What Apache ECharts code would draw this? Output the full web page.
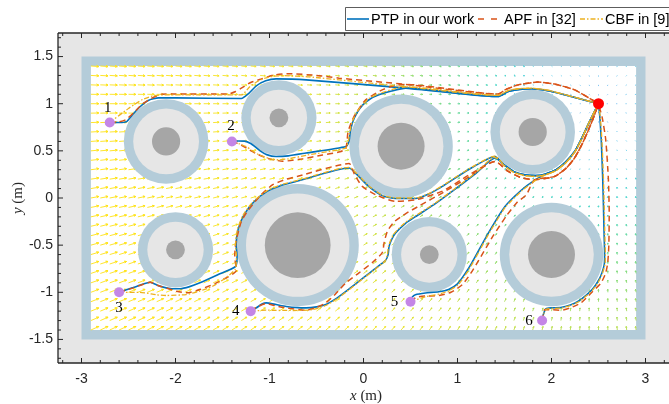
<!DOCTYPE html>
<html><head><meta charset="utf-8">
<script src="https://cdn.jsdelivr.net/npm/echarts@6/dist/echarts.min.js"></script>
<style>html,body{margin:0;padding:0;background:#fff}#c{width:669px;height:404px}</style>
</head><body><div id="c"></div>
<script>
// ---------------- data ----------------
const goal = [2.5, 1.0];
const starts = [[-2.7,0.8],[-1.4,0.6],[-2.6,-1.0],[-1.2,-1.2],[0.5,-1.1],[1.9,-1.3]];
const startNames = ['1','2','3','4','5','6'];
// obstacles: [cx, cy, core radius]
const obstacles = [[-2.1,0.6,0.15],[-0.9,0.85,0.1],[0.4,0.55,0.25],[1.8,0.7,0.15],[-2.0,-0.55,0.1],[-0.7,-0.5,0.35],[0.7,-0.6,0.1],[2.0,-0.6,0.25]];
const obstacleMargin = 0.2, obstacleBand = 0.1;
const arena = [-3, 3, -1.5, 1.5];
const arenaWall = 0.1;

const xTicks = [-3,-2,-1,0,1,2,3];
const xTickLabels = ['-3','-2','-1','0','1','2','3'];
const yTicks = [-1.5,-1,-0.5,0,0.5,1,1.5];
const yTickLabels = ['-1.5','-1','-0.5','0','0.5','1','1.5'];

// PTP (our work)
const ptpTopTail = [[0.45,1.165],[1.43,1.076],[1.54,1.13],[1.66,1.152],[1.79,1.158],[1.96,1.137],[2.1,1.105],[2.21,1.076],[2.5,1.0]];
const ptpBottomTail = [[1.505,0.345],[1.6,0.28],[1.716,0.245],[1.83,0.237],[1.94,0.255],[2.05,0.3],[2.15,0.38],[2.245,0.49],[2.315,0.62],[2.4,0.8],[2.5,1.0]];
const ptp1 = [[-2.7,0.8],[-2.6,0.8],[-2.52,0.81],[-2.46,0.88],[-2.38,0.965],[-2.29,1.035],[-2.18,1.062],[-2.0,1.062],[-1.3,1.055],[-1.22,1.11],[-1.14,1.19],[-1.04,1.243],[-0.93,1.263],[-0.61,1.253]];
const ptp2 = [[-1.4,0.6],[-1.33,0.605],[-1.265,0.603],[-1.2,0.578],[-1.155,0.545],[-1.1,0.5],[-1.03,0.46],[-0.93,0.44],[-0.8,0.447],[-0.612,0.477],[-0.188,0.547],[-0.155,0.6],[-0.14,0.7],[-0.115,0.805],[-0.065,0.91],[-0.01,0.985],[0.07,1.05],[0.164,1.094],[0.3,1.135]];
const ptp3 = [[-2.6,-1.0],[-2.45,-0.95],[-2.35,-0.915],[-2.27,-0.894],[-2.2,-0.922],[-2.13,-0.945],[-2.04,-0.962],[-1.95,-0.962],[-1.85,-0.94],[-1.74,-0.9],[-1.55,-0.815],[-1.36,-0.725],[-1.345,-0.614],[-1.355,-0.5],[-1.333,-0.33],[-1.267,-0.172],[-1.163,-0.037],[-1.028,0.067],[-0.87,0.135],[-0.7,0.18],[-0.153,0.318],[-0.083,0.262],[0.058,0.12],[0.2,0.025],[0.341,-0.005],[0.552,-0.005],[0.7,0.045],[0.834,0.12],[1.116,0.3],[1.399,0.44]];
const ptp4 = [[-1.2,-1.2],[-1.14,-1.165],[-1.08,-1.125],[-1.035,-1.112],[-0.93,-1.13],[-0.823,-1.15],[-0.7,-1.163],[-0.612,-1.165],[-0.5,-1.155],[-0.4,-1.13],[-0.28,-1.06],[-0.153,-0.965],[0.0,-0.845],[0.12,-0.752],[0.235,-0.66],[0.262,-0.6],[0.272,-0.513],[0.3,-0.44],[0.341,-0.372],[0.447,-0.268],[0.552,-0.198],[0.75,-0.07],[0.95,0.075],[1.2,0.265],[1.399,0.425]];
const ptp5 = [[0.5,-1.1],[0.52,-1.05],[0.552,-1.026],[0.658,-1.008],[0.8,-0.995],[0.905,-0.97],[1.0,-0.91],[1.075,-0.81],[1.151,-0.69],[1.328,-0.372],[1.505,-0.09],[1.681,0.085],[1.822,0.19],[1.94,0.255],[2.05,0.3],[2.15,0.38],[2.245,0.49],[2.315,0.62],[2.4,0.8],[2.5,1.0]];
const ptp6 = [[1.9,-1.3],[1.915,-1.23],[1.94,-1.175],[2.0,-1.165],[2.099,-1.162],[2.2,-1.135],[2.285,-1.095],[2.37,-1.03],[2.437,-0.966],[2.5,-0.875],[2.536,-0.795],[2.562,-0.7],[2.565,-0.6],[2.56,-0.4],[2.553,-0.1],[2.545,0.2],[2.53,0.6],[2.515,0.85],[2.5,1.0]];

// APF in [32]
const apfTopTail = [[0.45,1.205],[1.434,1.102],[1.505,1.147],[1.646,1.2],[1.857,1.229],[2.034,1.208],[2.246,1.147],[2.4,1.06],[2.5,1.0]];
const apfBottomTail = [[1.399,0.388],[1.54,0.282],[1.68,0.215],[1.822,0.194],[2.034,0.229],[2.16,0.32],[2.245,0.424],[2.32,0.56],[2.386,0.705],[2.45,0.86],[2.5,1.0]];
const apf1 = [[-2.7,0.8],[-2.6,0.808],[-2.53,0.83],[-2.45,0.9],[-2.36,0.99],[-2.27,1.05],[-2.15,1.1],[-2.0,1.103],[-1.444,1.102],[-1.36,1.13],[-1.3,1.165],[-1.2,1.225],[-1.088,1.262],[-0.95,1.305],[-0.788,1.318],[-0.5,1.3],[-0.259,1.271]];
const apf2 = [[-1.4,0.6],[-1.317,0.57],[-1.23,0.52],[-1.141,0.47],[-1.0,0.415],[-0.859,0.39],[-0.65,0.415],[-0.436,0.455],[-0.25,0.49],[-0.19,0.52],[-0.175,0.6],[-0.165,0.7],[-0.13,0.8],[-0.09,0.883],[0.023,1.041],[0.199,1.147],[0.341,1.195]];
const apf3 = [[-2.6,-1.0],[-2.446,-0.953],[-2.27,-0.894],[-2.18,-0.93],[-2.093,-0.955],[-1.987,-0.99],[-1.881,-1.006],[-1.741,-0.971],[-1.565,-0.9],[-1.352,-0.765],[-1.37,-0.619],[-1.36,-0.48],[-1.335,-0.371],[-1.3,-0.25],[-1.247,-0.159],[-1.106,0.017],[-0.965,0.141],[-0.82,0.2],[-0.7,0.23],[-0.153,0.365],[-0.095,0.25],[-0.013,0.123],[0.129,0.035],[0.341,-0.036],[0.552,-0.02],[0.834,0.07],[1.116,0.24]];
const apf4 = [[-1.2,-1.2],[-1.14,-1.16],[-1.035,-1.12],[-0.93,-1.145],[-0.823,-1.165],[-0.612,-1.19],[-0.5,-1.16],[-0.4,-1.112],[-0.3,-1.02],[-0.188,-0.9],[-0.048,-0.794],[0.1,-0.68],[0.2,-0.58],[0.22,-0.47],[0.255,-0.35],[0.33,-0.25],[0.45,-0.165],[0.6,-0.08],[0.85,0.06],[1.1,0.21]];
const apf5 = [[0.5,-1.1],[0.56,-1.055],[0.658,-1.04],[0.8,-1.035],[0.93,-1.0],[1.05,-0.92],[1.14,-0.8],[1.22,-0.67],[1.38,-0.4],[1.52,-0.19],[1.63,-0.05],[1.733,0.035],[1.78,0.13],[1.822,0.194],[2.034,0.229],[2.16,0.32],[2.245,0.424],[2.32,0.56],[2.386,0.705],[2.45,0.86],[2.5,1.0]];
const apf6 = [[1.9,-1.3],[1.915,-1.23],[1.927,-1.183],[2.0,-1.185],[2.104,-1.19],[2.2,-1.165],[2.315,-1.112],[2.43,-1.0],[2.527,-0.9],[2.575,-0.8],[2.598,-0.689],[2.61,-0.5],[2.614,-0.159],[2.605,0.2],[2.577,0.618],[2.54,0.85],[2.5,1.0]];

// CBF in [9]
const cbfTopTail = [[0.45,1.18],[1.43,1.088],[1.54,1.14],[1.66,1.16],[1.79,1.165],[1.96,1.143],[2.1,1.108],[2.21,1.078],[2.5,1.0]];
const cbfBottomTail = [[1.505,0.338],[1.6,0.272],[1.716,0.237],[1.83,0.229],[1.94,0.247],[2.05,0.292],[2.15,0.372],[2.245,0.483],[2.315,0.615],[2.4,0.8],[2.5,1.0]];
const cbf1 = [[-2.7,0.8],[-2.5,0.95],[-2.35,1.045],[-2.25,1.08],[-2.15,1.093],[-2.0,1.093],[-1.3,1.093],[-1.21,1.18],[-1.124,1.238],[-1.053,1.27],[-0.965,1.292],[-0.85,1.297],[-0.58,1.285]];
const cbf2 = [[-1.4,0.6],[-1.32,0.573],[-1.247,0.545],[-1.18,0.5],[-1.106,0.455],[-1.0,0.418],[-0.93,0.405],[-0.8,0.415],[-0.6,0.455],[-0.19,0.53],[-0.162,0.6],[-0.145,0.7],[-0.12,0.81],[-0.068,0.915],[-0.015,0.985],[0.065,1.06],[0.164,1.105],[0.3,1.15]];
const cbf3 = [[-2.6,-1.0],[-2.381,-1.0],[-2.2,-1.027],[-2.099,-1.034],[-1.887,-1.024],[-1.75,-0.99],[-1.605,-0.936],[-1.47,-0.85],[-1.365,-0.755],[-1.352,-0.614],[-1.362,-0.5],[-1.34,-0.328],[-1.273,-0.168],[-1.168,-0.032],[-1.032,0.073],[-0.873,0.142],[-0.7,0.187],[-0.153,0.325],[-0.08,0.268],[0.06,0.125],[0.2,0.03],[0.341,0.0],[0.552,0.0],[0.7,0.05],[0.834,0.127],[1.116,0.305],[1.399,0.445]];
const cbf4 = [[-1.2,-1.2],[-1.035,-1.19],[-0.753,-1.193],[-0.55,-1.185],[-0.4,-1.14],[-0.28,-1.068],[-0.153,-0.972],[0.0,-0.852],[0.12,-0.76],[0.228,-0.668],[0.255,-0.6],[0.265,-0.513],[0.293,-0.44],[0.336,-0.365],[0.443,-0.26],[0.55,-0.19],[0.75,-0.062],[0.95,0.083],[1.2,0.272],[1.395,0.432]];
const cbf5 = [[0.5,-1.1],[0.658,-1.048],[0.8,-1.02],[0.905,-0.985],[1.008,-0.92],[1.085,-0.815],[1.16,-0.693],[1.336,-0.375],[1.512,-0.094],[1.688,0.08],[1.825,0.184],[1.94,0.247],[2.05,0.292],[2.15,0.372],[2.245,0.483],[2.315,0.615],[2.4,0.8],[2.5,1.0]];
const cbf6 = [[1.9,-1.3],[1.918,-1.225],[1.945,-1.18],[2.0,-1.172],[2.099,-1.168],[2.2,-1.14],[2.29,-1.1],[2.375,-1.035],[2.443,-0.97],[2.506,-0.878],[2.543,-0.797],[2.57,-0.7],[2.573,-0.6],[2.568,-0.4],[2.561,-0.1],[2.553,0.2],[2.537,0.6],[2.52,0.85],[2.5,1.0]];

// ---------------- build ----------------
const ptpPaths = [ptp1.concat(ptpTopTail), ptp2.concat(ptpTopTail), ptp3.concat(ptpBottomTail), ptp4.concat(ptpBottomTail), ptp5, ptp6];
const apfPaths = [apf1.concat(apfTopTail), apf2.concat(apfTopTail), apf3.concat(apfBottomTail), apf4.concat(apfBottomTail), apf5, apf6];
const cbfPaths = [cbf1.concat(cbfTopTail), cbf2.concat(cbfTopTail), cbf3.concat(cbfBottomTail), cbf4.concat(cbfBottomTail), cbf5, cbf6];

// attractive field toward goal (quiver background)
const fieldStep = 0.1;
const fieldData = [];
for (let i = -29; i <= 29; i++) for (let j = -14; j <= 14; j++) {
  const x = i * fieldStep, y = j * fieldStep;
  fieldData.push([x, y, goal[0] - x, goal[1] - y]);
}
const fieldScale = 0.0155, fieldMax = 5.4;
const fieldStops = [[0,[135,185,245]],[0.1,[95,205,235]],[0.2,[80,215,205]],[0.33,[125,218,125]],[0.47,[192,223,70]],[0.62,[240,228,45]],[1,[255,226,20]]];
function fieldColor(t) {
  t = Math.max(0, Math.min(1, t));
  for (let k = 1; k < fieldStops.length; k++) {
    if (t <= fieldStops[k][0]) {
      const a = fieldStops[k-1], b = fieldStops[k];
      const f = (t - a[0]) / (b[0] - a[0]);
      const c = a[1].map((v, n) => Math.round(v + (b[1][n] - v) * f));
      return 'rgb(' + c.join(',') + ')';
    }
  }
  return 'rgb(255,226,20)';
}

const ink = '#262626';
const xMinor = [], yMinor = [];
for (let k = -16; k <= 16; k++) if (k % 5 !== 0) xMinor.push(k * 0.2);
for (let k = -17; k <= 17; k++) if (k % 5 !== 0) yMinor.push(k * 0.1);

const startLabelOffsets = [[-2,-15],[-1,-15],[0,16],[-15,0],[-16,0],[-13,0]];

const series = [];
// arena
series.push({
  type: 'custom', coordinateSystem: 'cartesian2d', data: [[0,0]], z: 1, silent: true, clip: false,
  renderItem: function (params, api) {
    const p0 = api.coord([arena[0], arena[3]]), p1 = api.coord([arena[1], arena[2]]);
    const q0 = api.coord([arena[0] + arenaWall, arena[3] - arenaWall]), q1 = api.coord([arena[1] - arenaWall, arena[2] + arenaWall]);
    return { type: 'group', children: [
      { type: 'rect', shape: { x: p0[0], y: p0[1], width: p1[0] - p0[0], height: p1[1] - p0[1] }, style: { fill: '#b4ccd9' } },
      { type: 'rect', shape: { x: q0[0], y: q0[1], width: q1[0] - q0[0], height: q1[1] - q0[1] }, style: { fill: '#ffffff' } }
    ]};
  }
});
// field
series.push({
  type: 'custom', coordinateSystem: 'cartesian2d', data: fieldData, z: 2, silent: true,
  renderItem: function (params, api) {
    const x = api.value(0), y = api.value(1), u = api.value(2), v = api.value(3);
    const d = Math.hypot(u, v);
    const p = api.coord([x, y]);
    const q = api.coord([x + u * fieldScale, y + v * fieldScale]);
    let dx = q[0] - p[0], dy = q[1] - p[1];
    let len = Math.hypot(dx, dy);
    const col = fieldColor(d / fieldMax);
    if (len < 1.2) {
      const ux = len > 0 ? dx / len : 1, uy = len > 0 ? dy / len : 0;
      return { type: 'line', shape: { x1: p[0], y1: p[1], x2: p[0] + ux * 1.2, y2: p[1] + uy * 1.2 }, style: { stroke: col, lineWidth: 0.9 } };
    }
    const ux = dx / len, uy = dy / len;
    const h = Math.max(1.2, len * 0.3), a = 0.45;
    const bx = -ux, by = -uy;
    const c = Math.cos(a), s = Math.sin(a);
    const h1 = [q[0] + h * (bx * c - by * s), q[1] + h * (bx * s + by * c)];
    const h2 = [q[0] + h * (bx * c + by * s), q[1] + h * (-bx * s + by * c)];
    return { type: 'polyline', shape: { points: [p, q, h1, q, h2] }, style: { stroke: col, lineWidth: 0.9, fill: null } };
  }
});
// obstacles
series.push({
  type: 'custom', coordinateSystem: 'cartesian2d', data: obstacles, z: 3, silent: true, clip: false,
  renderItem: function (params, api) {
    const c = api.coord([api.value(0), api.value(1)]);
    const sc = api.size([1, 1])[0];
    const r = api.value(2);
    return { type: 'group', children: [
      { type: 'circle', shape: { cx: c[0], cy: c[1], r: (r + obstacleMargin + obstacleBand) * sc }, style: { fill: '#b4ccd9' } },
      { type: 'circle', shape: { cx: c[0], cy: c[1], r: (r + obstacleMargin) * sc }, style: { fill: '#e6e6e6' } },
      { type: 'circle', shape: { cx: c[0], cy: c[1], r: r * sc }, style: { fill: '#a6a6a6' } }
    ]};
  }
});
// paths
ptpPaths.forEach(function (d) {
  series.push({ type: 'line', data: d, z: 4, showSymbol: false, symbol: 'none', smooth: 0.2, silent: true,
    lineStyle: { color: '#0072bd', width: 1.6 } });
});
apfPaths.forEach(function (d) {
  series.push({ type: 'line', data: d, z: 4, showSymbol: false, symbol: 'none', smooth: 0.2, silent: true,
    lineStyle: { color: '#d95319', width: 1.5, type: [6, 4] } });
});
cbfPaths.forEach(function (d) {
  series.push({ type: 'line', data: d, z: 4, showSymbol: false, symbol: 'none', smooth: 0.2, silent: true,
    lineStyle: { color: '#edb120', width: 1.3, type: [5, 2, 1.5, 2] } });
});
// starts and goal
series.push({
  type: 'custom', coordinateSystem: 'cartesian2d', data: starts, z: 6, silent: true, clip: false,
  renderItem: function (params, api) {
    const p = api.coord([api.value(0), api.value(1)]);
    const off = startLabelOffsets[params.dataIndex];
    return { type: 'group', children: [
      { type: 'circle', shape: { cx: p[0], cy: p[1], r: 5 }, style: { fill: '#c486e6' } },
      { type: 'text', style: { text: startNames[params.dataIndex], x: p[0] + off[0], y: p[1] + off[1], align: 'center', verticalAlign: 'middle', font: '15px "Liberation Serif"', fill: '#000' } }
    ]};
  }
});
series.push({
  type: 'custom', coordinateSystem: 'cartesian2d', data: [goal], z: 6, silent: true, clip: false,
  renderItem: function (params, api) {
    const p = api.coord([api.value(0), api.value(1)]);
    return { type: 'circle', shape: { cx: p[0], cy: p[1], r: 5.5 }, style: { fill: '#ff0000' } };
  }
});
// axes frame, ticks, labels
series.push({
  type: 'custom', coordinateSystem: 'cartesian2d', data: [[0,0]], z: 10, silent: true, clip: false,
  renderItem: function (params, api) {
    const cs = params.coordSys;
    const L = cs.x, T = cs.y, B = cs.y + cs.height, R = cs.x + cs.width;
    const ch = [];
    const seg = (x1, y1, x2, y2, w) => ({ type: 'line', shape: { x1, y1, x2, y2 }, style: { stroke: ink, lineWidth: w || 1 } });
    ch.push(seg(L, T, L, B, 1.3)); ch.push(seg(L, B, R, B, 1.3)); ch.push(seg(L, T, R, T, 1.3));
    xMinor.forEach(v => { const px = api.coord([v, 0])[0]; ch.push(seg(px, B, px, B - 3)); ch.push(seg(px, T, px, T + 3)); });
    yMinor.forEach(v => { const py = api.coord([0, v])[1]; ch.push(seg(L, py, L + 3, py)); });
    xTicks.forEach((v, i) => {
      const px = api.coord([v, 0])[0];
      ch.push(seg(px, B, px, B - 5)); ch.push(seg(px, T, px, T + 5));
      ch.push({ type: 'text', style: { text: xTickLabels[i], x: px, y: B + 16, align: 'center', verticalAlign: 'middle', font: '14px "Liberation Sans"', fill: ink } });
    });
    yTicks.forEach((v, i) => {
      const py = api.coord([0, v])[1];
      ch.push(seg(L, py, L + 5, py));
      ch.push({ type: 'text', style: { text: yTickLabels[i], x: L - 5, y: py, align: 'right', verticalAlign: 'middle', font: '14px "Liberation Sans"', fill: ink } });
    });
    return { type: 'group', children: ch };
  }
});

const option = {
  animation: false,
  grid: { left: 58, top: 33, width: 614, height: 330, show: true, backgroundColor: '#e6e6e6', borderWidth: 0 },
  xAxis: { type: 'value', min: -3.25, max: 3.25, show: false },
  yAxis: { type: 'value', min: -1.75, max: 1.75, show: false },
  series: series,
  graphic: [
    { type: 'rect', z: 100, shape: { x: 345.5, y: 7.5, width: 340, height: 23 }, style: { fill: '#ffffff', stroke: '#333', lineWidth: 0.8 } },
    { type: 'line', z: 101, shape: { x1: 347, y1: 19, x2: 369, y2: 19 }, style: { stroke: '#0072bd', lineWidth: 1.6 } },
    { type: 'text', z: 101, style: { text: 'PTP in our work', x: 371, y: 19.5, verticalAlign: 'middle', font: '14.5px "Liberation Sans"', fill: '#000' } },
    { type: 'line', z: 101, shape: { x1: 478, y1: 19, x2: 499, y2: 19 }, style: { stroke: '#d95319', lineWidth: 1.5, lineDash: [6, 7] } },
    { type: 'text', z: 101, style: { text: 'APF in [32]', x: 504, y: 19.5, verticalAlign: 'middle', font: '14.5px "Liberation Sans"', fill: '#000' } },
    { type: 'line', z: 101, shape: { x1: 580, y1: 19, x2: 603, y2: 19 }, style: { stroke: '#edb120', lineWidth: 1.3, lineDash: [5, 2, 1.5, 2] } },
    { type: 'text', z: 101, style: { text: 'CBF in [9]', x: 605, y: 19.5, verticalAlign: 'middle', font: '14.5px "Liberation Sans"', fill: '#000' } },
    { type: 'text', z: 101, style: { text: '{i|x} (m)', x: 366, y: 396, align: 'center', verticalAlign: 'middle', font: '15px "Liberation Serif"', fill: ink,
        rich: { i: { fontStyle: 'italic', fontFamily: 'Liberation Serif', fontSize: 15, fill: ink } } } },
    { type: 'text', z: 101, rotation: Math.PI / 2, x: 18, y: 198, style: { text: '{i|y} (m)', x: 0, y: 0, align: 'center', verticalAlign: 'middle', font: '15px "Liberation Serif"', fill: ink,
        rich: { i: { fontStyle: 'italic', fontFamily: 'Liberation Serif', fontSize: 15, fill: ink } } } }
  ]
};
const chart = echarts.init(document.getElementById('c'), null, { renderer: 'canvas', width: 669, height: 404 });
chart.setOption(option);
</script>
</body></html>
